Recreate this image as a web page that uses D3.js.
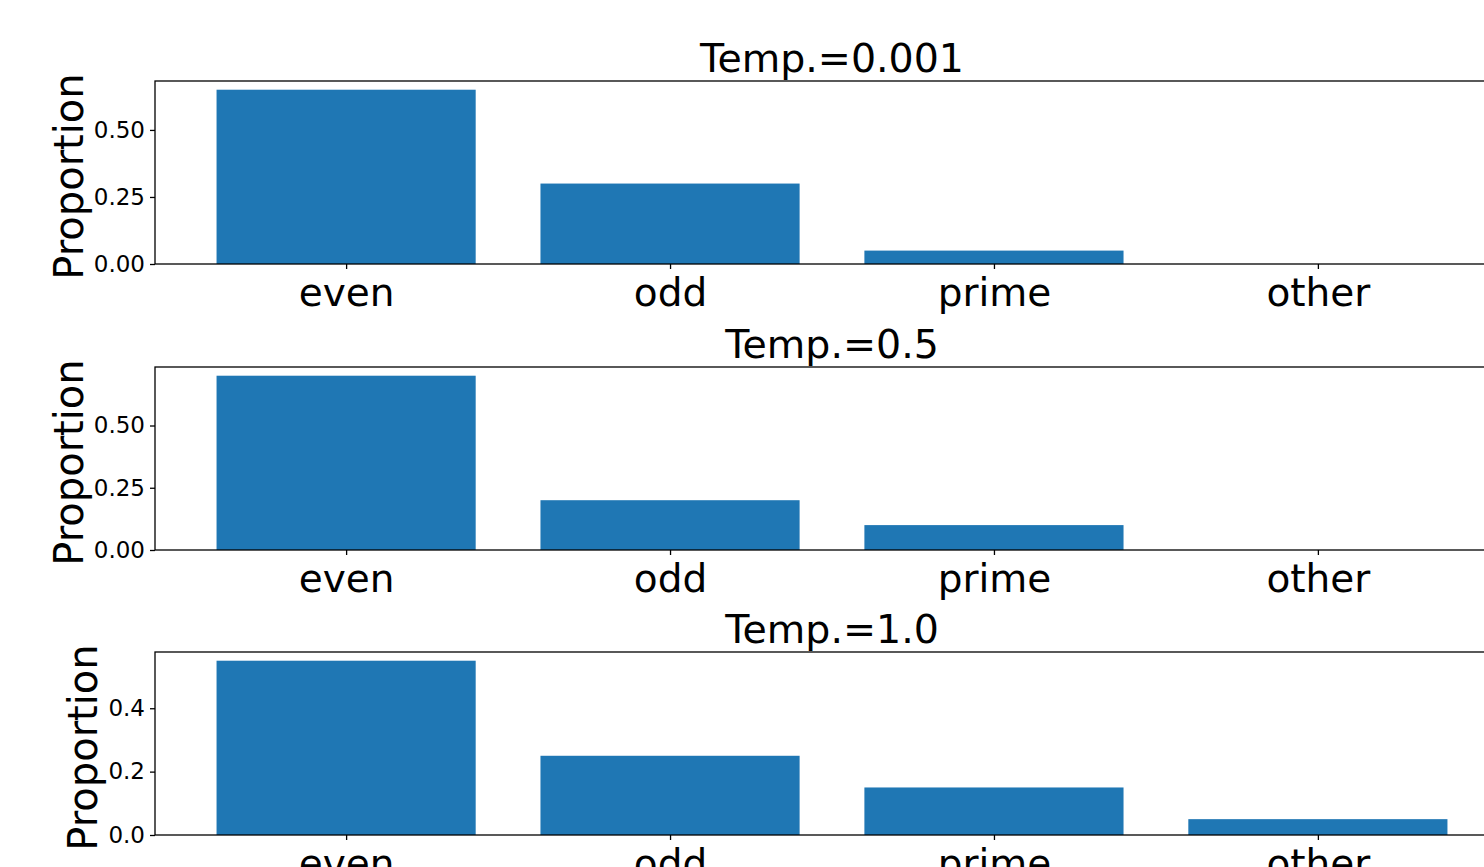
<!DOCTYPE html>
<html>
<head>
<meta charset="utf-8">
<script src="https://cdn.jsdelivr.net/npm/d3@7"></script>
<style>
  body { margin: 0; background: #fff; }
  text { font-family: "DejaVu Sans", sans-serif; fill: #000; }
</style>
</head>
<body>
<svg id="chart" width="1484" height="867"></svg>
<script>
const categories = ["even", "odd", "prime", "other"];

const titles = ["Temp.=0.001", "Temp.=0.5", "Temp.=1.0"];

const valuesLow = [0.65, 0.30, 0.05, 0.0];
const valuesMid = [0.70, 0.20, 0.10, 0.0];
const valuesHigh = [0.55, 0.25, 0.15, 0.05];

const yTicksLow = [0, 0.25, 0.5];
const yTicksMid = [0, 0.25, 0.5];
const yTicksHigh = [0, 0.2, 0.4];

const yFormats = [".2f", ".2f", ".1f"];

const panels = [
  { title: titles[0], values: valuesLow, ticks: yTicksLow, fmt: yFormats[0], top: 81 },
  { title: titles[1], values: valuesMid, ticks: yTicksMid, fmt: yFormats[1], top: 367 },
  { title: titles[2], values: valuesHigh, ticks: yTicksHigh, fmt: yFormats[2], top: 652 }
];

const svg = d3.select("#chart");
const left = 155, right = 1509, panelH = 183;
const barColor = "#1f77b4";

// matplotlib style x range: bars of width 0.8 plus 5% margins
const x = d3.scaleLinear()
  .domain([-0.59, categories.length - 1 + 0.59])
  .range([left, right]);

panels.forEach(p => {
  const g = svg.append("g");
  const bottom = p.top + panelH;
  const ymax = d3.max(p.values) * 1.05;
  const y = d3.scaleLinear().domain([0, ymax]).range([bottom, p.top]);

  g.selectAll("rect")
    .data(p.values)
    .enter()
    .append("rect")
    .attr("x", (_, i) => x(i - 0.4))
    .attr("width", x(0.8) - x(0))
    .attr("y", d => y(d))
    .attr("height", d => bottom - y(d))
    .attr("fill", barColor);

  // frame
  g.append("rect")
    .attr("x", left)
    .attr("y", p.top)
    .attr("width", right - left)
    .attr("height", panelH)
    .attr("fill", "none")
    .attr("stroke", "#000")
    .attr("stroke-width", 1.3);

  // y axis
  const yAxis = g.append("g")
    .attr("transform", `translate(${left},0)`)
    .call(d3.axisLeft(y).tickValues(p.ticks).tickFormat(d3.format(p.fmt)).tickSize(5).tickPadding(5));
  yAxis.select(".domain").remove();
  yAxis.selectAll("line").attr("stroke", "#000").attr("stroke-width", 1.3);
  yAxis.selectAll("text").attr("font-size", 23).style("font-family", "DejaVu Sans");

  // x axis
  const xAxis = g.append("g")
    .attr("transform", `translate(0,${bottom})`)
    .call(d3.axisBottom(x).tickValues(d3.range(categories.length)).tickFormat(i => categories[i]).tickSize(5).tickPadding(9));
  xAxis.select(".domain").remove();
  xAxis.selectAll("line").attr("stroke", "#000").attr("stroke-width", 1.3);
  xAxis.selectAll("text").attr("font-size", 39).style("font-family", "DejaVu Sans");

  // title
  g.append("text")
    .attr("x", (left + right) / 2)
    .attr("y", p.top - 9)
    .attr("text-anchor", "middle")
    .attr("font-size", 39.5)
    .text(p.title);

  // y label placed left of the widest tick label
  let minX = left;
  yAxis.selectAll("text").each(function () {
    minX = Math.min(minX, this.getBBox().x + left);
  });
  const lx = minX - 11;
  g.append("text")
    .attr("transform", `translate(${lx},${(p.top + bottom) / 2 + 4}) rotate(-90)`)
    .attr("text-anchor", "middle")
    .attr("font-size", 40)
    .text("Proportion");
});
</script>
</body>
</html>
